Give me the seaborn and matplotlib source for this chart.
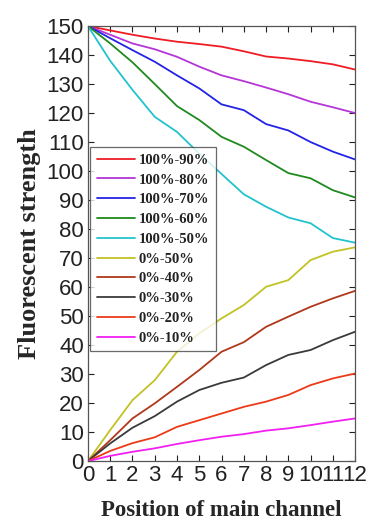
import matplotlib
matplotlib.use("Agg")
import matplotlib.pyplot as plt
import numpy as np
import pandas as pd
import seaborn as sns

# Positions along the main channel
positions = list(range(13))

# Series
series_names = [
    "100%-90%", "100%-80%", "100%-70%", "100%-60%", "100%-50%",
    "0%-50%", "0%-40%", "0%-30%", "0%-20%", "0%-10%",
]
s_100_90 = [150, 148.5, 147, 145.7, 144.6, 143.8, 142.9, 141.3, 139.5, 138.8, 137.9, 136.8, 135]
s_100_80 = [150, 147, 144, 142, 139.4, 136, 133, 131, 128.8, 126.5, 123.9, 122, 120]
s_100_70 = [150, 145.8, 141.7, 137.7, 133, 128.5, 123, 121, 116.2, 114, 110, 106.7, 104]
s_100_60 = [150, 144, 137.5, 130, 122.4, 117.6, 111.8, 108.4, 103.8, 99.3, 97.5, 93.4, 90.9]
s_100_50 = [150, 138, 128, 118.7, 113.5, 106, 99, 92, 87.7, 84, 82, 76.9, 75.3]
s_0_50 = [0, 10.7, 21, 27.9, 37.7, 44, 49.2, 53.8, 60.1, 62.4, 69.3, 72.2, 73.7]
s_0_40 = [0, 7.2, 14.7, 19.9, 25.6, 31.4, 37.7, 41, 46.3, 49.8, 53.2, 56.1, 58.7]
s_0_30 = [0, 6.1, 11.5, 15.5, 20.5, 24.5, 27, 28.8, 33.1, 36.6, 38.3, 41.7, 44.6]
s_0_20 = [0, 3.5, 6.2, 8.2, 11.8, 14.1, 16.4, 18.7, 20.5, 22.8, 26.2, 28.5, 30.2]
s_0_10 = [0, 1.8, 3.2, 4.4, 5.9, 7.2, 8.4, 9.3, 10.5, 11.3, 12.4, 13.6, 14.7]

series_values = [s_100_90, s_100_80, s_100_70, s_100_60, s_100_50,
                 s_0_50, s_0_40, s_0_30, s_0_20, s_0_10]

colors = ["#ee1c24", "#b535d8", "#2323e6", "#1f8a1f", "#22c3cc",
          "#c2c224", "#b0381a", "#3a3a3a", "#ec3a18", "#f21ff2"]

x_ticks = list(range(0, 13))
y_ticks = list(range(0, 151, 10))


def main() -> None:
    rows = []
    for name, vals in zip(series_names, series_values):
        for p, v in zip(positions, vals):
            rows.append({"position": p, "value": v, "series": name})
    df = pd.DataFrame(rows)

    sns.set_style("ticks")
    plt.rcParams["font.family"] = ["Liberation Sans", "DejaVu Sans"]

    fig = plt.figure(figsize=(3.68, 5.21), dpi=100, facecolor="white")
    ax = fig.add_axes([0.239, 0.115, 0.726, 0.835])

    sns.lineplot(
        data=df, x="position", y="value", hue="series",
        hue_order=series_names, palette=dict(zip(series_names, colors)),
        linewidth=1.3, ax=ax, legend=True,
    )

    ax.set_xlim(0, 12)
    ax.set_ylim(0, 150)
    ax.set_xticks(x_ticks)
    ax.set_yticks(y_ticks)
    ax.tick_params(direction="in", length=4, width=0.8, top=True, right=True,
                   labelsize=16, colors="#222222")
    ax.tick_params(axis="x", pad=3)
    ax.tick_params(axis="y", pad=3)
    for lab in ax.get_xticklabels() + ax.get_yticklabels():
        lab.set_color("#222222")
    for sp in ax.spines.values():
        sp.set_visible(True)
        sp.set_color("#555555")
        sp.set_linewidth(0.9)

    ax.set_xlabel("Position of main channel", family="Liberation Serif",
                  fontweight="bold", fontsize=16.5, labelpad=10)
    ax.set_ylabel("Fluorescent strength", family="Liberation Serif",
                  fontweight="bold", fontsize=19, labelpad=4)

    leg = ax.legend(
        loc="upper left", bbox_to_anchor=(0.008, 0.722), frameon=True,
        fancybox=False, edgecolor="#444444", handlelength=2.6,
        handletextpad=0.3, labelspacing=0.45, borderpad=0.45,
        borderaxespad=0.0,
        prop={"family": "Liberation Serif", "weight": "bold", "size": 10.5},
    )
    leg.get_frame().set_linewidth(0.9)
    for t in leg.get_texts():
        t.set_color("#222222")

    fig.savefig("out.png", dpi=100, facecolor="white")
    plt.close(fig)


if __name__ == "__main__":
    main()
